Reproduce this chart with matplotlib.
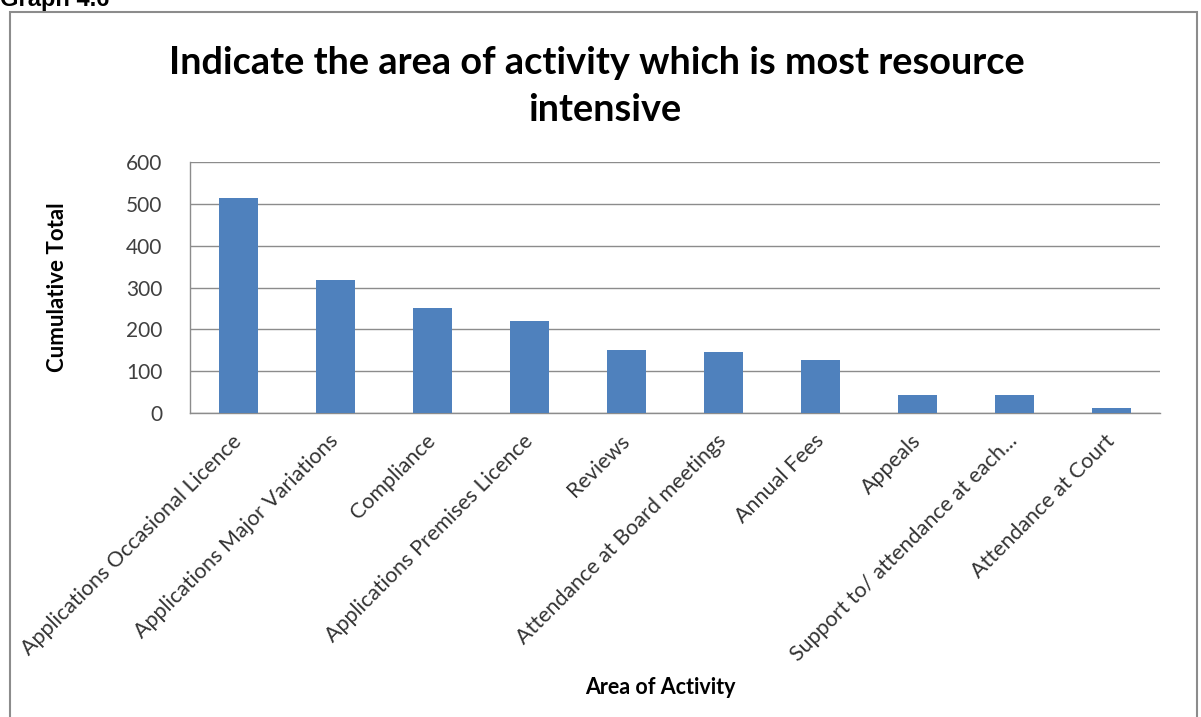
import matplotlib.pyplot as plt
from matplotlib.patches import Rectangle

# survey totals per area of activity
areas = ["Applications Occasional Licence", "Applications Major Variations",
         "Compliance", "Applications Premises Licence", "Reviews",
         "Attendance at Board meetings", "Annual Fees", "Appeals",
         "Support to/ attendance at each...", "Attendance at Court"]
totals = [514, 317, 251, 219, 150, 146, 127, 44, 44, 12]
yticks = [0, 100, 200, 300, 400, 500, 600]

plt.rcParams['font.family'] = ['Lato', 'DejaVu Sans']

W, H = 1201, 717
fig = plt.figure(figsize=(W/100, H/100), dpi=100)
fig.patch.set_facecolor('white')

# plot area in pixels
left, right, top, bottom = 190, 1160, 162, 413
ax = fig.add_axes([left/W, 1 - bottom/H, (right-left)/W, (bottom-top)/H])

x = range(len(areas))
ax.bar(x, totals, width=0.41, color='#4f81bd', zorder=3)
ax.set_xlim(-0.5, len(areas) - 0.5)
ax.set_ylim(0, 600)
ax.set_yticks(yticks)
ax.set_yticklabels([str(v) for v in yticks], fontsize=15, color='#404040')
ax.set_xticks(list(x))
ax.set_xticklabels(areas, rotation=45, ha='right', va='center',
                   rotation_mode='anchor', fontsize=15.5, color='#333333')
ax.tick_params(axis='both', length=0)
ax.tick_params(axis='y', pad=20)
ax.tick_params(axis='x', pad=18)
ax.yaxis.grid(True, color='#8c8c8c', linewidth=1.0, zorder=0)
for s in ['top', 'right']:
    ax.spines[s].set_visible(False)
for s in ['left', 'bottom']:
    ax.spines[s].set_color('#8c8c8c')
    ax.spines[s].set_linewidth(1.0)

fig.text(58/W, 1 - 287/H, 'Cumulative Total', fontsize=16, fontweight='bold',
         rotation=90, ha='center', va='center')
fig.text(660/W, 1 - 688/H, 'Area of Activity', fontsize=15.5, fontweight='bold',
         ha='center', va='center')

fig.text(597/W, 1 - 63/H, 'Indicate the area of activity which is most resource',
         fontsize=27.3, fontweight='bold', ha='center', va='center', color='#000000')
fig.text(605/W, 1 - 110/H, 'intensive',
         fontsize=27.3, fontweight='bold', ha='center', va='center', color='#000000')

# chart frame and the heading above it
fig.patches.append(Rectangle((10/W, -0.05), (1197-10)/W, 1.05 - 12/H,
                             transform=fig.transFigure, fill=False,
                             edgecolor='#8c8c8c', linewidth=1.5))
fig.text(0, 1 - 6/H, 'Graph 4.6', fontsize=17, fontweight='bold',
         family='Liberation Sans', ha='left', va='baseline')

fig.savefig('out.png', dpi=100)
